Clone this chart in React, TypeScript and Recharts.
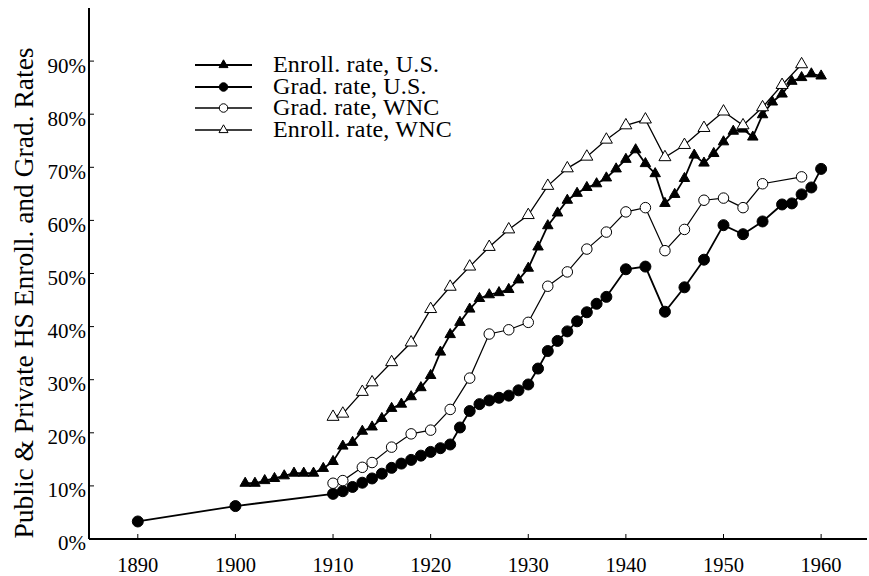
import { LineChart, Line, XAxis, YAxis, Legend } from "recharts";

// Enrollment rate, U.S. (filled triangles)
const enrollUSYears = [
  1901, 1902, 1903, 1904, 1905, 1906, 1907, 1908, 1909, 1910, 1911, 1912, 1913, 1914, 1915, 1916,
  1917, 1918, 1919, 1920, 1921, 1922, 1923, 1924, 1925, 1926, 1927, 1928, 1929, 1930, 1931, 1932,
  1933, 1934, 1935, 1936, 1937, 1938, 1939, 1940, 1941, 1942, 1943, 1944, 1945, 1946, 1947, 1948,
  1949, 1950, 1951, 1952, 1953, 1954, 1955, 1956, 1957, 1958, 1959, 1960,
];
const enrollUSRates = [
  10.5, 10.5, 11.0, 11.4, 11.9, 12.4, 12.4, 12.4, 13.3, 14.6, 17.5, 18.2, 20.3, 21.1, 22.7, 24.6,
  25.4, 26.8, 28.5, 30.8, 35.2, 38.5, 40.8, 43.3, 45.3, 46.0, 46.4, 47.0, 48.8, 51.0, 55.0, 59.0,
  61.4, 63.8, 65.1, 66.2, 66.9, 68.0, 69.7, 71.5, 73.3, 70.7, 68.8, 63.2, 64.9, 67.9, 72.3, 70.8,
  72.6, 74.8, 76.8, 77.2, 75.7, 79.9, 82.3, 83.8, 86.2, 86.9, 87.6, 87.2,
];

// Graduation rate, U.S. (filled circles)
const gradUSYears = [
  1890, 1900, 1910, 1911, 1912, 1913, 1914, 1915, 1916, 1917, 1918, 1919, 1920, 1921, 1922, 1923,
  1924, 1925, 1926, 1927, 1928, 1929, 1930, 1931, 1932, 1933, 1934, 1935, 1936, 1937, 1938, 1940,
  1942, 1944, 1946, 1948, 1950, 1952, 1954, 1956, 1957, 1958, 1959, 1960,
];
const gradUSRates = [
  3.3, 6.2, 8.5, 9.0, 9.8, 10.6, 11.4, 12.3, 13.4, 14.2, 14.9, 15.7, 16.4, 17.1, 17.8, 21.0,
  24.1, 25.4, 26.1, 26.6, 27.0, 28.0, 29.1, 32.1, 35.4, 37.3, 39.1, 41.0, 42.7, 44.3, 45.6, 50.8,
  51.3, 42.8, 47.4, 52.6, 59.1, 57.4, 59.8, 63.0, 63.2, 64.9, 66.2, 69.7,
];

// Graduation rate, West North Central (open circles)
const gradWNCYears = [
  1910, 1911, 1913, 1914, 1916, 1918, 1920, 1922, 1924, 1926, 1928, 1930, 1932, 1934, 1936, 1938,
  1940, 1942, 1944, 1946, 1948, 1950, 1952, 1954, 1958,
];
const gradWNCRates = [
  10.5, 11.0, 13.5, 14.4, 17.3, 19.8, 20.5, 24.4, 30.3, 38.6, 39.4, 40.8, 47.6, 50.3, 54.6, 57.8,
  61.6, 62.4, 54.3, 58.3, 63.8, 64.2, 62.4, 66.9, 68.2,
];

// Enrollment rate, West North Central (open triangles)
const enrollWNCYears = [
  1910, 1911, 1913, 1914, 1916, 1918, 1920, 1922, 1924, 1926, 1928, 1930, 1932, 1934, 1936, 1938,
  1940, 1942, 1944, 1946, 1948, 1950, 1952, 1954, 1956, 1958,
];
const enrollWNCRates = [
  23.0, 23.6, 27.7, 29.5, 33.3, 37.0, 43.3, 47.5, 51.3, 55.0, 58.3, 61.0, 66.5, 69.8, 72.0, 75.2,
  77.9, 79.0, 71.9, 74.2, 77.4, 80.5, 77.9, 81.3, 85.5, 89.4,
];

const xTicks = [1890, 1900, 1910, 1920, 1930, 1940, 1950, 1960];
const yTicks = [0, 10, 20, 30, 40, 50, 60, 70, 80, 90];

const FONT = '"Liberation Serif", "Times New Roman", serif';

const toPoints = (years: number[], rates: number[]) =>
  years.map((year, i) => ({ year, rate: rates[i] }));

type Kind = "triangle" | "circle";

const Marker = ({ cx, cy, kind, filled, size }: { cx: number; cy: number; kind: Kind; filled: boolean; size: number }) => {
  const fill = filled ? "#000" : "#fff";
  if (kind === "circle") {
    return <circle cx={cx} cy={cy} r={size / 2} fill={fill} stroke="#000" strokeWidth={1} />;
  }
  const h = size * 0.866;
  const pts = `${cx},${cy - (2 * h) / 3} ${cx - size / 2},${cy + h / 3} ${cx + size / 2},${cy + h / 3}`;
  return <polygon points={pts} fill={fill} stroke="#000" strokeWidth={1} strokeLinejoin="miter" />;
};

const series = [
  { key: "enrollUS", name: "Enroll. rate, U.S.", data: toPoints(enrollUSYears, enrollUSRates), kind: "triangle" as Kind, filled: true, width: 1.8, size: 10.5 },
  { key: "gradUS", name: "Grad. rate, U.S.", data: toPoints(gradUSYears, gradUSRates), kind: "circle" as Kind, filled: true, width: 1.8, size: 11 },
  { key: "gradWNC", name: "Grad. rate, WNC", data: toPoints(gradWNCYears, gradWNCRates), kind: "circle" as Kind, filled: false, width: 1.2, size: 10.5 },
  { key: "enrollWNC", name: "Enroll. rate, WNC", data: toPoints(enrollWNCYears, enrollWNCRates), kind: "triangle" as Kind, filled: false, width: 1.3, size: 12 },
];

// draw order: lower series first, WNC enrollment on top
const drawOrder = ["gradUS", "gradWNC", "enrollUS", "enrollWNC"];

const LegendBox = () => (
  <div style={{ fontFamily: FONT, fontSize: 24, letterSpacing: 0.2, color: "#000" }}>
    {series.map((s) => (
      <div key={s.key} style={{ display: "flex", alignItems: "center", height: 21.7, lineHeight: "21.7px" }}>
        <svg width={57} height={22} style={{ display: "block" }}>
          <line x1={0} y1={11} x2={57} y2={11} stroke="#000" strokeWidth={s.filled ? 2.2 : 1.6} />
          <Marker cx={28.5} cy={11} kind={s.kind} filled={s.filled} size={s.kind === "triangle" ? 9 : 8.5} />
        </svg>
        <span style={{ marginLeft: 21, whiteSpace: "nowrap" }}>{s.name}</span>
      </div>
    ))}
  </div>
);

const YTitle = () => (
  <text
    x={33}
    y={293}
    transform="rotate(-90 33 293)"
    textAnchor="middle"
    fontFamily={FONT}
    fontSize={27.5}
    fill="#000"
  >
    Public &amp; Private HS Enroll. and Grad. Rates
  </text>
);

export default function App() {
  return (
    <div style={{ position: "absolute", left: 0, top: 0, width: 869, height: 576, background: "#fff" }}>
      <LineChart width={869} height={576} margin={{ top: 8, right: 2, bottom: 0, left: 0 }}>
        <XAxis
          dataKey="year"
          type="number"
          domain={[1885, 1964.7]}
          ticks={xTicks}
          allowDuplicatedCategory={false}
          height={37}
          axisLine={{ stroke: "#000", strokeWidth: 2 }}
          tickLine={{ stroke: "#000", strokeWidth: 1 }}
          tickSize={-5}
          tickMargin={23}
          tick={{ fill: "#000", fontFamily: FONT, fontSize: 20.5 }}
        />
        <YAxis
          type="number"
          domain={[0, 100]}
          ticks={yTicks}
          width={89}
          axisLine={{ stroke: "#000", strokeWidth: 2 }}
          tickLine={{ stroke: "#000", strokeWidth: 1 }}
          tickSize={-5}
          tickMargin={8}
          tickFormatter={(v: number) => `${v}%`}
          tick={{ fill: "#000", fontFamily: FONT, fontSize: 21, dy: 4 }}
          label={{ value: "title", content: () => <YTitle /> }}
        />
        <Legend
          layout="vertical"
          align="center"
          verticalAlign="middle"
          wrapperStyle={{ left: 195, top: 54, width: "auto" }}
          content={() => <LegendBox />}
        />
        {drawOrder.map((k) => {
          const s = series.find((x) => x.key === k)!;
          return (
            <Line
              key={s.key}
              data={s.data}
              dataKey="rate"
              name={s.name}
              type="linear"
              stroke="#000"
              strokeWidth={s.width}
              isAnimationActive={false}
              activeDot={false}
              dot={(p: any) => (
                <Marker key={`${s.key}-${p.index}`} cx={p.cx} cy={p.cy} kind={s.kind} filled={s.filled} size={s.size} />
              )}
            />
          );
        })}
      </LineChart>
    </div>
  );
}
